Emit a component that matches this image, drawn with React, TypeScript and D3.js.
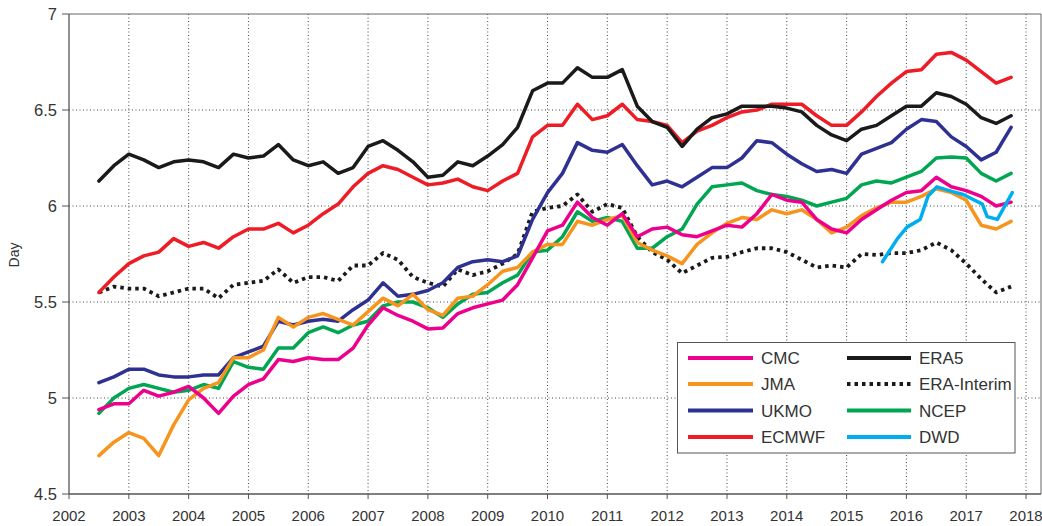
import React from 'react';
import * as d3 from 'd3';

// ---- data (quarterly samples, Day) ----
const times = [
  2002.5, 2002.75,
  2003, 2003.25, 2003.5, 2003.75,
  2004, 2004.25, 2004.5, 2004.75,
  2005, 2005.25, 2005.5, 2005.75,
  2006, 2006.25, 2006.5, 2006.75,
  2007, 2007.25, 2007.5, 2007.75,
  2008, 2008.25, 2008.5, 2008.75,
  2009, 2009.25, 2009.5, 2009.75,
  2010, 2010.25, 2010.5, 2010.75,
  2011, 2011.25, 2011.5, 2011.75,
  2012, 2012.25, 2012.5, 2012.75,
  2013, 2013.25, 2013.5, 2013.75,
  2014, 2014.25, 2014.5, 2014.75,
  2015, 2015.25, 2015.5, 2015.75,
  2016, 2016.25, 2016.5, 2016.75,
  2017, 2017.25, 2017.5, 2017.75,
];

const era5 = [
  6.13, 6.21,
  6.27, 6.24, 6.2, 6.23,
  6.24, 6.23, 6.2, 6.27,
  6.25, 6.26, 6.32, 6.24,
  6.21, 6.23, 6.17, 6.2,
  6.31, 6.34, 6.29, 6.23,
  6.15, 6.16, 6.23, 6.21,
  6.26, 6.32, 6.41, 6.6,
  6.64, 6.64, 6.72, 6.67,
  6.67, 6.71, 6.52, 6.44,
  6.41, 6.31, 6.4, 6.46,
  6.48, 6.52, 6.52, 6.52,
  6.51, 6.49, 6.42, 6.37,
  6.34, 6.4, 6.42, 6.47,
  6.52, 6.52, 6.59, 6.57,
  6.53, 6.46, 6.43, 6.47,
];

const ecmwf = [
  5.55, 5.63,
  5.7, 5.74, 5.76, 5.83,
  5.79, 5.81, 5.78, 5.84,
  5.88, 5.88, 5.91, 5.86,
  5.9, 5.96, 6.01, 6.1,
  6.17, 6.21, 6.19, 6.15,
  6.11, 6.12, 6.14, 6.1,
  6.08, 6.13, 6.17, 6.36,
  6.42, 6.42, 6.53, 6.45,
  6.47, 6.53, 6.45, 6.44,
  6.42, 6.33, 6.39, 6.42,
  6.46, 6.49, 6.5, 6.53,
  6.53, 6.53, 6.47, 6.42,
  6.42, 6.49, 6.57, 6.64,
  6.7, 6.71, 6.79, 6.8,
  6.76, 6.7, 6.64, 6.67,
];

const ukmo = [
  5.08, 5.11,
  5.15, 5.15, 5.12, 5.11,
  5.11, 5.12, 5.12, 5.21,
  5.24, 5.27, 5.4, 5.38,
  5.4, 5.41, 5.4, 5.46,
  5.51, 5.6, 5.53, 5.54,
  5.56, 5.6, 5.68, 5.71,
  5.72, 5.71, 5.74, 5.93,
  6.07, 6.17, 6.33, 6.29,
  6.28, 6.32, 6.21, 6.11,
  6.13, 6.1, 6.15, 6.2,
  6.2, 6.25, 6.34, 6.33,
  6.27, 6.22, 6.18, 6.19,
  6.17, 6.27, 6.3, 6.33,
  6.4, 6.45, 6.44, 6.36,
  6.31, 6.24, 6.28, 6.41,
];

const ncep = [
  4.92, 5.0,
  5.05, 5.07, 5.05, 5.03,
  5.04, 5.07, 5.05, 5.19,
  5.16, 5.15, 5.26, 5.26,
  5.34, 5.37, 5.34, 5.38,
  5.4, 5.48, 5.5, 5.5,
  5.47, 5.42, 5.49, 5.54,
  5.55, 5.6, 5.64, 5.76,
  5.77, 5.84, 5.97, 5.92,
  5.94, 5.92, 5.78, 5.78,
  5.84, 5.88, 6.01, 6.1,
  6.11, 6.12, 6.08, 6.06,
  6.05, 6.03, 6.0, 6.02,
  6.04, 6.11, 6.13, 6.12,
  6.15, 6.18, 6.25, 6.255,
  6.25, 6.17, 6.13, 6.17,
];

const jma = [
  4.7, 4.77,
  4.82, 4.79, 4.7, 4.86,
  4.99, 5.05, 5.08, 5.21,
  5.21, 5.25, 5.42, 5.37,
  5.42, 5.44, 5.41, 5.38,
  5.45, 5.52, 5.48, 5.54,
  5.46, 5.43, 5.52, 5.53,
  5.59, 5.66, 5.68, 5.76,
  5.8, 5.8, 5.92, 5.9,
  5.93, 5.95, 5.81, 5.77,
  5.74, 5.7, 5.8, 5.86,
  5.91, 5.94, 5.93, 5.98,
  5.96, 5.98, 5.93, 5.86,
  5.89, 5.95, 5.99, 6.02,
  6.02, 6.05, 6.09, 6.07,
  6.03, 5.9, 5.88, 5.92,
];

const cmc = [
  4.94, 4.97,
  4.97, 5.04, 5.01, 5.03,
  5.06, 5.0, 4.92, 5.01,
  5.07, 5.1, 5.2, 5.19,
  5.21, 5.2, 5.2, 5.26,
  5.38, 5.47, 5.43, 5.4,
  5.36, 5.365, 5.44, 5.47,
  5.49, 5.51, 5.59, 5.73,
  5.87, 5.9, 6.02, 5.94,
  5.9, 5.96, 5.84, 5.88,
  5.89, 5.85, 5.84, 5.87,
  5.9, 5.89, 5.96, 6.06,
  6.03, 6.02, 5.93, 5.88,
  5.86, 5.93, 5.98, 6.03,
  6.07, 6.08, 6.15, 6.1,
  6.08, 6.05, 6.0, 6.02,
];

const eraInterim = [
  5.55, 5.58,
  5.57, 5.57, 5.53, 5.55,
  5.57, 5.57, 5.52, 5.59,
  5.6, 5.61, 5.67, 5.6,
  5.63, 5.63, 5.61, 5.69,
  5.69, 5.755, 5.72, 5.63,
  5.6, 5.58, 5.67, 5.64,
  5.66, 5.7, 5.75, 5.97,
  5.99, 6.0, 6.06, 5.97,
  6.01, 5.99, 5.84, 5.76,
  5.72, 5.65, 5.69, 5.73,
  5.735, 5.76, 5.78, 5.78,
  5.76, 5.72, 5.68, 5.69,
  5.68, 5.75, 5.745, 5.755,
  5.755, 5.77, 5.81, 5.77,
  5.7, 5.62, 5.55, 5.58,
];

const dwdTimes = [2015.6, 2015.85, 2016.01, 2016.23, 2016.36, 2016.51, 2016.77, 2016.95, 2017.27, 2017.35, 2017.52, 2017.77];
const dwd = [5.71, 5.83, 5.89, 5.93, 6.05, 6.1, 6.075, 6.06, 6.01, 5.945, 5.93, 6.07];

const xTickYears = [2002, 2003, 2004, 2005, 2006, 2007, 2008, 2009, 2010, 2011, 2012, 2013, 2014, 2015, 2016, 2017, 2018];
const yTicks = [4.5, 5, 5.5, 6, 6.5, 7];
const yGrid = [5, 5.5, 6, 6.5];

type Series = { name: string; t: number[]; v: number[]; color: string; dash?: string };

const series: Series[] = [
  { name: 'ERA-Interim', t: times, v: eraInterim, color: '#1a1a1a', dash: '3.5,4' },
  { name: 'ECMWF', t: times, v: ecmwf, color: '#ee1c25' },
  { name: 'ERA5', t: times, v: era5, color: '#1a1a1a' },
  { name: 'UKMO', t: times, v: ukmo, color: '#2e3192' },
  { name: 'NCEP', t: times, v: ncep, color: '#00a651' },
  { name: 'JMA', t: times, v: jma, color: '#f7941d' },
  { name: 'CMC', t: times, v: cmc, color: '#ec008c' },
  { name: 'DWD', t: dwdTimes, v: dwd, color: '#00aeef' },
];

const legendLeft = ['CMC', 'JMA', 'UKMO', 'ECMWF'];
const legendRight = ['ERA5', 'ERA-Interim', 'NCEP', 'DWD'];

const FONT = '"Liberation Sans", Arial, Helvetica, sans-serif';

export default function App() {
  const W = 1042;
  const H = 526;
  const x = d3.scaleLinear().domain([2002, 2018.25]).range([69, 1041]);
  const y = d3.scaleLinear().domain([4.5, 7]).range([494, 14]);
  const x0 = x(2002);
  const x1 = x(2018.25);
  const y0 = y(4.5);
  const y1 = y(7);

  const lineFor = (s: Series) =>
    d3
      .line<number>()
      .x((_, i) => x(s.t[i]))
      .y((d) => y(d))
      .curve(d3.curveLinear)(s.v) || '';

  const byName = (n: string) => series.find((s) => s.name === n)!;

  const lg = { left: 677.5, top: 342.5, right: 1015, bottom: 453 };
  const rowY = [358, 384, 410.5, 437];

  return (
    <svg
      width={W}
      height={H}
      style={{ position: 'absolute', left: 0, top: 0, background: '#fff' }}
      fontFamily={FONT}
    >
      <rect x={0} y={0} width={W} height={H} fill="#fff" />
      {/* grid */}
      {xTickYears.slice(1).map((yr) => (
        <line
          key={'gx' + yr}
          x1={x(yr)}
          x2={x(yr)}
          y1={y1}
          y2={y0}
          stroke="#444"
          strokeWidth={1}
          strokeDasharray="1,2.5"
        />
      ))}
      {yGrid.map((v) => (
        <line
          key={'gy' + v}
          x1={x0}
          x2={x1}
          y1={y(v)}
          y2={y(v)}
          stroke="#444"
          strokeWidth={1}
          strokeDasharray="1,2.5"
        />
      ))}
      {/* frame */}
      <line x1={x0} x2={x1} y1={y1} y2={y1} stroke="#666" strokeWidth={1} />
      <line x1={x1} x2={x1} y1={y1} y2={y0} stroke="#666" strokeWidth={1} />

      {/* series */}
      {series.map((s) => (
        <path
          key={s.name}
          d={lineFor(s)}
          fill="none"
          stroke={s.color}
          strokeWidth={s.dash ? 3.8 : 3.5}
          strokeDasharray={s.dash}
          strokeLinejoin="round"
          strokeLinecap={s.dash ? 'butt' : 'round'}
        />
      ))}

      {/* axes */}
      <line x1={x0} x2={x0} y1={y1} y2={y0} stroke="#555" strokeWidth={1.3} />
      <line x1={x0} x2={x1} y1={y0} y2={y0} stroke="#555" strokeWidth={1.6} />
      {yTicks.map((v) => (
        <g key={'yt' + v}>
          <line x1={x0 - 7} x2={x0} y1={y(v)} y2={y(v)} stroke="#555" strokeWidth={1} />
          <text x={57} y={y(v)} dy="0.36em" textAnchor="end" fontSize={16.5} fill="#333">
            {v}
          </text>
        </g>
      ))}
      {xTickYears.map((yr) => (
        <g key={'xt' + yr}>
          <line x1={x(yr)} x2={x(yr)} y1={y0} y2={y0 + 5} stroke="#555" strokeWidth={1} />
          <text x={x(yr)} y={521} textAnchor="middle" fontSize={15} fill="#333">
            {yr}
          </text>
        </g>
      ))}
      <text
        transform={`translate(19,255) rotate(-90)`}
        textAnchor="middle"
        fontSize={14}
        fill="#333"
      >
        Day
      </text>

      {/* legend */}
      <rect
        x={lg.left}
        y={lg.top}
        width={lg.right - lg.left}
        height={lg.bottom - lg.top}
        fill="#fff"
        stroke="#555"
        strokeWidth={1}
      />
      {legendLeft.map((n, i) => {
        const s = byName(n);
        return (
          <g key={'ll' + n}>
            <line x1={688} x2={753} y1={rowY[i]} y2={rowY[i]} stroke={s.color} strokeWidth={4} />
            <text x={761} y={rowY[i]} dy="0.36em" fontSize={17} fill="#333">
              {n}
            </text>
          </g>
        );
      })}
      {legendRight.map((n, i) => {
        const s = byName(n);
        return (
          <g key={'lr' + n}>
            <line
              x1={847}
              x2={911}
              y1={rowY[i]}
              y2={rowY[i]}
              stroke={s.color}
              strokeWidth={4}
              strokeDasharray={s.dash}
            />
            <text x={919} y={rowY[i]} dy="0.36em" fontSize={17} fill="#333">
              {n}
            </text>
          </g>
        );
      })}
    </svg>
  );
}
